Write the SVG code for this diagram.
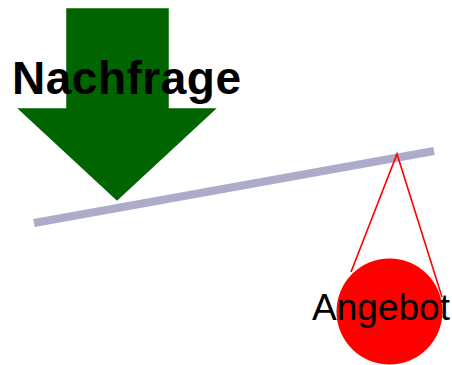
<svg xmlns="http://www.w3.org/2000/svg" width="452" height="365" viewBox="0 0 452 365">
<style>
.lbl{font-family:"Liberation Sans",Arial,sans-serif;fill:#000}
</style>
<rect width="452" height="365" fill="#fff"/>
<g id="connectors">
<line x1="34" y1="223" x2="434" y2="151" stroke="#acacca" stroke-width="8"/>
<polyline points="351,272 397,154 442,297" fill="none" stroke="#f00" stroke-width="1.6"/>
</g>
<g id="nachfrage">
<polygon points="65,7 170,7 170,107 220,107 117,202.5 14,107 65,107" fill="#006400" stroke="#fff" stroke-width="2.5" stroke-linejoin="miter" stroke-miterlimit="10"/>
<text class="lbl" x="12" y="94" font-size="46" font-weight="bold" textLength="229">Nachfrage</text>
</g>
<g id="angebot">
<circle cx="389.5" cy="311.5" r="53" fill="#f00"/>
<text class="lbl" x="381" y="320" font-size="37" text-anchor="middle">Angebot</text>
</g>
</svg>
